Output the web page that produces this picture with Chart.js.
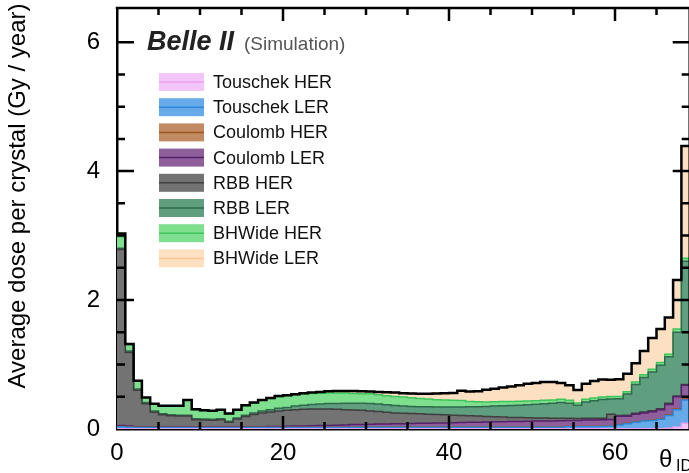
<!DOCTYPE html>
<html>
<head>
<meta charset="utf-8">
<script src="https://cdn.jsdelivr.net/npm/chart.js@4"></script>
<style>
  html, body { margin: 0; padding: 0; overflow: hidden; background: #fff; }
  canvas { display: block; }
</style>
</head>
<body>
<canvas id="myChart" width="693" height="473"></canvas>
<script>
// theta_ID rings 0..68, one bin per ring
const thetaBins = Array.from({ length: 69 }, (_, i) => i);

const touschekHER = [0.003,0.003,0.003,0.003,0.003,0.003,0.003,0.003,0.003,0.003,
  0.003,0.003,0.003,0.003,0.003,0.003,0.003,0.003,0.003,0.003,
  0.003,0.003,0.003,0.003,0.003,0.003,0.003,0.003,0.003,0.003,
  0.003,0.003,0.003,0.003,0.003,0.003,0.003,0.003,0.003,0.003,
  0.003,0.003,0.003,0.003,0.003,0.003,0.003,0.003,0.003,0.003,
  0.003,0.003,0.003,0.003,0.003,0.003,0.003,0.003,0.003,0.003,
  0.003,0.003,0.003,0.003,0.003,0.003,0.01,0.03,0.09];
const touschekLER = [0.03,0.025,0.02,0.02,0.02,0.02,0.02,0.02,0.02,0.02,
  0.02,0.02,0.02,0.02,0.02,0.02,0.02,0.02,0.02,0.02,
  0.02,0.02,0.02,0.02,0.02,0.02,0.02,0.02,0.025,0.025,
  0.025,0.025,0.025,0.025,0.025,0.025,0.025,0.025,0.025,0.025,
  0.025,0.025,0.025,0.025,0.025,0.025,0.025,0.025,0.025,0.025,
  0.025,0.025,0.025,0.025,0.03,0.03,0.03,0.03,0.035,0.04,
  0.06,0.08,0.10,0.12,0.13,0.15,0.20,0.27,0.36];
const coulombHER = [0.005,0.005,0.005,0.005,0.005,0.005,0.005,0.005,0.005,0.005,
  0.005,0.005,0.005,0.005,0.005,0.005,0.005,0.005,0.005,0.005,
  0.005,0.005,0.005,0.005,0.005,0.005,0.005,0.005,0.005,0.005,
  0.005,0.005,0.005,0.005,0.005,0.005,0.005,0.005,0.005,0.005,
  0.005,0.005,0.005,0.005,0.005,0.005,0.005,0.005,0.005,0.005,
  0.005,0.005,0.005,0.005,0.005,0.005,0.005,0.005,0.005,0.005,
  0.005,0.005,0.005,0.005,0.005,0.005,0.01,0.01,0.01];
const coulombLER = [0.015,0.015,0.008,0.008,0.008,0.008,0.008,0.008,0.008,0.008,
  0.008,0.008,0.008,0.008,0.008,0.008,0.008,0.008,0.01,0.012,
  0.015,0.018,0.02,0.023,0.025,0.027,0.03,0.033,0.035,0.037,
  0.04,0.043,0.045,0.047,0.05,0.052,0.055,0.058,0.06,0.062,
  0.065,0.068,0.07,0.072,0.075,0.078,0.08,0.082,0.085,0.087,
  0.09,0.09,0.092,0.095,0.095,0.094,0.1,0.1,0.1,0.1,
  0.13,0.11,0.12,0.12,0.13,0.14,0.16,0.19,0.22];
const rbbHER = [2.73,1.14,0.564,0.354,0.224,0.184,0.169,0.164,0.164,0.109,
  0.104,0.099,0.109,0.069,0.119,0.159,0.189,0.214,0.227,0.24,
  0.247,0.254,0.257,0.259,0.257,0.255,0.247,0.239,0.227,0.22,
  0.207,0.194,0.182,0.17,0.162,0.155,0.147,0.139,0.132,0.125,
  0.117,0.109,0.102,0.095,0.087,0.079,0.072,0.065,0.06,0.055,
  0.049,0.047,0.043,0.038,0.032,0.03,0.027,0.027,0.025,0.082,
  0.012,0.015,0.017,0.017,0.017,0.017,0.02,0.01,0.01];
const rbbLER = [0.02,0.02,0.02,0.02,0.02,0.015,0.015,0.015,0.015,0.015,
  0.015,0.015,0.015,0.015,0.015,0.02,0.025,0.03,0.035,0.04,
  0.045,0.055,0.062,0.07,0.078,0.085,0.092,0.10,0.105,0.11,
  0.115,0.118,0.115,0.115,0.11,0.11,0.11,0.115,0.115,0.12,
  0.125,0.132,0.14,0.147,0.155,0.165,0.175,0.185,0.192,0.203,
  0.213,0.222,0.232,0.244,0.235,0.208,0.255,0.275,0.29,0.235,
  0.26,0.33,0.445,0.535,0.60,0.675,0.72,0.99,1.91];
const bhwideHER = [0.18,0.10,0.125,0.075,0.105,0.12,0.135,0.14,0.23,0.14,
  0.13,0.13,0.135,0.115,0.125,0.15,0.155,0.165,0.175,0.18,
  0.18,0.175,0.175,0.17,0.168,0.165,0.163,0.158,0.152,0.148,
  0.15,0.145,0.14,0.14,0.14,0.135,0.13,0.12,0.115,0.11,
  0.105,0.10,0.08,0.075,0.07,0.068,0.065,0.06,0.06,0.057,
  0.055,0.052,0.05,0.05,0.045,0.035,0.04,0.04,0.04,0.04,
  0.035,0.035,0.04,0.04,0.04,0.04,0.04,0.05,0.05];
const bhwideLER = [0.05,0.01,0.005,0.005,0.005,0.005,0.005,0.005,0.005,0.005,
  0.005,0.005,0.005,0.005,0.005,0.005,0.005,0.005,0.005,0.01,
  0.01,0.01,0.013,0.015,0.019,0.025,0.03,0.032,0.038,0.037,
  0.035,0.042,0.055,0.06,0.06,0.065,0.07,0.08,0.095,0.105,
  0.115,0.153,0.155,0.163,0.19,0.20,0.22,0.235,0.25,0.265,
  0.275,0.286,0.28,0.255,0.235,0.20,0.24,0.265,0.27,0.26,
  0.265,0.28,0.29,0.37,0.485,0.52,0.57,0.76,1.74];

const seriesNames = ['Touschek HER', 'Touschek LER', 'Coulomb HER', 'Coulomb LER',
  'RBB HER', 'RBB LER', 'BHWide HER', 'BHWide LER'];
const seriesValues = [touschekHER, touschekLER, coulombHER, coulombLER,
  rbbHER, rbbLER, bhwideHER, bhwideLER];
const fillColors = ['#f3c5f8', '#66aae9', '#c18a63', '#8f5f9c', '#737373', '#5f9e7e', '#7ee08f', '#fde0c2'];
const lineColors = ['#e8a0f0', '#2f86d6', '#a0541e', '#55216a', '#3f3f3f', '#2d6b4b', '#3ec45b', '#f6c496'];

const yTickLabels = [0, 2, 4, 6];
const xTickLabels = [0, 20, 40, 60];

const FONT = "'Liberation Sans', Arial, Helvetica, sans-serif";

// step histogram: one point per bin edge, last value repeated at the right edge
function toSteps(values) {
  const pts = values.map((v, i) => ({ x: thetaBins[i], y: v }));
  pts.push({ x: thetaBins[thetaBins.length - 1] + 1, y: values[values.length - 1] });
  return pts;
}

const datasets = seriesValues.map((vals, i) => ({
  label: seriesNames[i],
  data: toSteps(vals),
  stepped: true,
  backgroundColor: fillColors[i],
  borderColor: lineColors[i],
  borderWidth: 1.5,
  pointRadius: 0,
  fill: i === 0 ? 'origin' : '-1',
  stack: 'bkg',
  order: 0
}));

const totals = thetaBins.map((_, i) => seriesValues.reduce((s, arr) => s + arr[i], 0));
datasets.push({
  label: 'total',
  data: toSteps(totals),
  stepped: true,
  borderColor: '#000',
  borderWidth: 2.5,
  pointRadius: 0,
  fill: false,
  stack: 'total',
  order: -1   // drawn last, on top of the fills
});

const decorPlugin = {
  id: 'decor',
  afterDraw(chart) {
    const { ctx, chartArea: a, scales: { x, y } } = chart;
    ctx.save();
    ctx.strokeStyle = '#000';
    ctx.lineCap = 'butt';

    // frame top + right
    ctx.lineWidth = 2.5;
    ctx.beginPath();
    ctx.moveTo(a.left - 1.25, a.top);
    ctx.lineTo(a.right, a.top);
    ctx.lineTo(a.right, a.bottom);
    ctx.stroke();

    // inward ticks
    for (let v = 5; v < 69; v += 5) {
      const px = x.getPixelForValue(v);
      const len = v % 20 === 0 ? 13 : 7;
      ctx.beginPath();
      ctx.moveTo(px, a.bottom); ctx.lineTo(px, a.bottom - len);
      ctx.moveTo(px, a.top); ctx.lineTo(px, a.top + len);
      ctx.stroke();
    }
    for (let v = 0.5; v < 6.5; v += 0.5) {
      const py = y.getPixelForValue(v);
      const len = v % 2 === 0 ? 17 : 8;
      ctx.beginPath();
      ctx.moveTo(a.left, py); ctx.lineTo(a.left + len, py);
      ctx.moveTo(a.right, py); ctx.lineTo(a.right - len, py);
      ctx.stroke();
    }

    // Belle II label
    ctx.fillStyle = '#222';
    ctx.textBaseline = 'alphabetic';
    ctx.textAlign = 'left';
    ctx.font = 'italic bold 27px ' + FONT;
    ctx.fillText('Belle II', 147, 50);
    ctx.fillStyle = '#555';
    ctx.font = '19px ' + FONT;
    ctx.fillText('(Simulation)', 244, 50);

    // legend
    ctx.font = '18px ' + FONT;
    ctx.textBaseline = 'middle';
    seriesNames.forEach((name, i) => {
      const yc = 82 + i * 25.2;
      ctx.fillStyle = fillColors[i];
      ctx.fillRect(159, yc - 9, 45, 18);
      ctx.strokeStyle = lineColors[i];
      ctx.lineWidth = 1.5;
      ctx.beginPath();
      ctx.moveTo(159, yc); ctx.lineTo(204, yc);
      ctx.stroke();
      ctx.fillStyle = '#111';
      ctx.fillText(name, 213, yc + 1);
    });

    // axis titles
    ctx.fillStyle = '#000';
    ctx.save();
    ctx.translate(18, 196);
    ctx.rotate(-Math.PI / 2);
    ctx.textAlign = 'center';
    ctx.font = '24px ' + FONT;
    ctx.fillText('Average dose per crystal (Gy / year)', 0, 0);
    ctx.restore();

    ctx.textAlign = 'left';
    ctx.font = '24px ' + FONT;
    ctx.fillText('\u03B8', 659, 460);
    ctx.font = '16px ' + FONT;
    ctx.fillText('ID', 676, 467);
    ctx.restore();
  }
};

new Chart(document.getElementById('myChart'), {
  type: 'line',
  data: { datasets },
  options: {
    responsive: false,
    animation: false,
    layout: { padding: { top: 8, right: 3.3, left: 0, bottom: 0 } },
    plugins: {
      legend: { display: false },
      tooltip: { enabled: false }
    },
    scales: {
      x: {
        type: 'linear',
        min: 0,
        max: 69,
        grid: { display: false },
        border: { display: true, color: '#000', width: 2.5 },
        ticks: {
          stepSize: 20,
          includeBounds: false,
          color: '#000',
          padding: 2,
          maxRotation: 0,
          font: { family: FONT, size: 24 },
          callback: v => xTickLabels.includes(v) ? String(v) : ''
        },
        afterFit(s) { s.height = 44; s.paddingLeft = 0; s.paddingRight = 0; }
      },
      y: {
        stacked: true,
        min: 0,
        max: 6.53,
        grid: { display: false },
        border: { display: true, color: '#000', width: 2.5 },
        ticks: {
          stepSize: 2,
          includeBounds: false,
          color: '#000',
          padding: 9,
          font: { family: FONT, size: 24 },
          callback: v => yTickLabels.includes(v) ? String(v) : ''
        },
        afterFit(s) { s.width = 117; s.paddingTop = 0; s.paddingBottom = 0; }
      }
    }
  },
  plugins: [decorPlugin]
});
</script>
</body>
</html>
